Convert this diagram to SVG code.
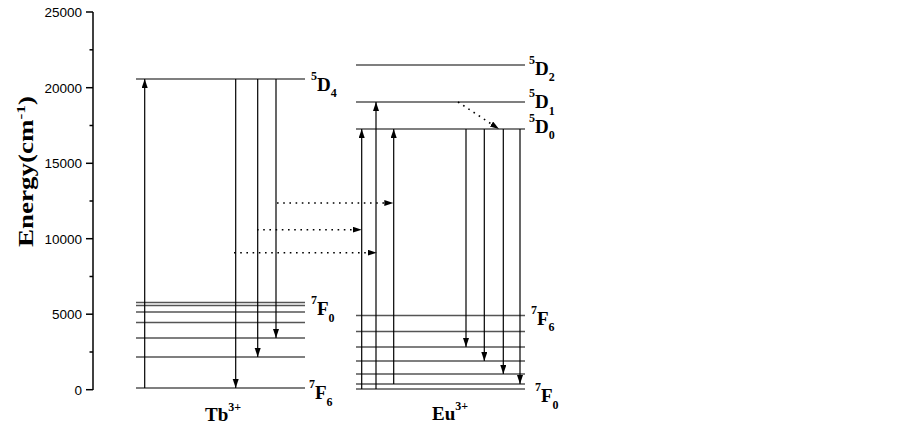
<svg xmlns="http://www.w3.org/2000/svg" width="903" height="428" viewBox="0 0 903 428">
<style>
.lvl{stroke:#555;stroke-width:1.3;fill:none}
.arr{stroke:#000;stroke-width:1.2;fill:none;marker-end:url(#ah)}
.dot{stroke:#000;stroke-width:1.6;fill:none;stroke-dasharray:1.6,4.6;marker-end:url(#ah)}
.ax{stroke:#000;stroke-width:1.5;fill:none}
.tk{font-family:"Liberation Sans",Arial,sans-serif;font-size:13.5px;text-anchor:end;fill:#000}
.lb{font-family:"Liberation Serif","Times New Roman",serif;font-weight:bold;font-size:19px;fill:#000}
.sm{font-size:12px}
</style>
<defs>
<marker id="ah" markerUnits="userSpaceOnUse" markerWidth="10" markerHeight="7" refX="9" refY="3" orient="auto">
<path d="M0,0 L9,3 L0,6 z" fill="#000"/>
</marker>
</defs>
<g id="axis">
<line class="ax" x1="93" y1="12" x2="93" y2="390"/>
<g class="ax">
<line x1="86" y1="12" x2="93" y2="12"/>
<line x1="89.5" y1="49.8" x2="93" y2="49.8"/>
<line x1="86" y1="87.7" x2="93" y2="87.7"/>
<line x1="89.5" y1="125.5" x2="93" y2="125.5"/>
<line x1="86" y1="163.3" x2="93" y2="163.3"/>
<line x1="89.5" y1="201" x2="93" y2="201"/>
<line x1="86" y1="238.7" x2="93" y2="238.7"/>
<line x1="89.5" y1="276.5" x2="93" y2="276.5"/>
<line x1="86" y1="314.2" x2="93" y2="314.2"/>
<line x1="89.5" y1="352" x2="93" y2="352"/>
<line x1="86" y1="389.7" x2="93" y2="389.7"/>
</g>
<text class="tk" x="82" y="17">25000</text>
<text class="tk" x="82" y="92.7">20000</text>
<text class="tk" x="82" y="168.3">15000</text>
<text class="tk" x="82" y="243.7">10000</text>
<text class="tk" x="82" y="319.2">5000</text>
<text class="tk" x="82" y="394.7">0</text>
<text class="lb" transform="translate(33,247) rotate(-90) scale(1.35,1)" style="font-size:20px">Energy(cm<tspan style="font-size:13px" dy="-8">-1</tspan><tspan dy="8">)</tspan></text>
</g>
<g id="tb">
<line class="lvl" x1="136" y1="79" x2="305" y2="79"/>
<line class="lvl" x1="136" y1="302.5" x2="305" y2="302.5"/>
<line class="lvl" x1="136" y1="305.5" x2="305" y2="305.5"/>
<line class="lvl" x1="136" y1="312" x2="305" y2="312"/>
<line class="lvl" x1="136" y1="322.5" x2="305" y2="322.5"/>
<line class="lvl" x1="136" y1="338" x2="305" y2="338"/>
<line class="lvl" x1="136" y1="357" x2="305" y2="357"/>
<line class="lvl" x1="136" y1="388" x2="305" y2="388"/>
<text class="lb" x="311" y="91"><tspan class="sm" dy="-11">5</tspan><tspan dy="11">D</tspan><tspan class="sm" dy="6">4</tspan></text>
<text class="lb" x="311" y="315"><tspan class="sm" dy="-11">7</tspan><tspan dy="11">F</tspan><tspan class="sm" dy="7">0</tspan></text>
<text class="lb" x="309" y="399"><tspan class="sm" dy="-11">7</tspan><tspan dy="11">F</tspan><tspan class="sm" dy="7">6</tspan></text>
<text class="lb" x="205" y="421">Tb<tspan class="sm" dy="-10">3+</tspan></text>
</g>
<g id="eu">
<line class="lvl" x1="356" y1="65" x2="525" y2="65"/>
<line class="lvl" x1="356" y1="102" x2="525" y2="102"/>
<line class="lvl" x1="356" y1="129" x2="525" y2="129"/>
<line class="lvl" x1="356" y1="315.5" x2="525" y2="315.5"/>
<line class="lvl" x1="356" y1="331.5" x2="525" y2="331.5"/>
<line class="lvl" x1="356" y1="347" x2="525" y2="347"/>
<line class="lvl" x1="356" y1="361" x2="525" y2="361"/>
<line class="lvl" x1="356" y1="374" x2="525" y2="374"/>
<line class="lvl" x1="356" y1="384" x2="525" y2="384"/>
<line class="lvl" x1="356" y1="389" x2="525" y2="389"/>
<text class="lb" x="529" y="75"><tspan class="sm" dy="-11">5</tspan><tspan dy="11">D</tspan><tspan class="sm" dy="6">2</tspan></text>
<text class="lb" x="529" y="108"><tspan class="sm" dy="-11">5</tspan><tspan dy="11">D</tspan><tspan class="sm" dy="7">1</tspan></text>
<text class="lb" x="529" y="133"><tspan class="sm" dy="-11">5</tspan><tspan dy="11">D</tspan><tspan class="sm" dy="6">0</tspan></text>
<text class="lb" x="531" y="325"><tspan class="sm" dy="-11">7</tspan><tspan dy="11">F</tspan><tspan class="sm" dy="6">6</tspan></text>
<text class="lb" x="535" y="402"><tspan class="sm" dy="-11">7</tspan><tspan dy="11">F</tspan><tspan class="sm" dy="7">0</tspan></text>
<text class="lb" x="432" y="420">Eu<tspan class="sm" dy="-10">3+</tspan></text>
</g>
<g id="connectors">
<line class="arr" x1="144.7" y1="388" x2="144.7" y2="79"/>
<line class="arr" x1="235.7" y1="79" x2="235.7" y2="388"/>
<line class="arr" x1="257.7" y1="79" x2="257.7" y2="357"/>
<line class="arr" x1="276" y1="79" x2="276" y2="338"/>
<line class="arr" x1="361.7" y1="389" x2="361.7" y2="129"/>
<line class="arr" x1="376" y1="389" x2="376" y2="102"/>
<line class="arr" x1="393.7" y1="384" x2="393.7" y2="129"/>
<line class="arr" x1="466" y1="129" x2="466" y2="347"/>
<line class="arr" x1="484.3" y1="129" x2="484.3" y2="361"/>
<line class="arr" x1="503.3" y1="129" x2="503.3" y2="374"/>
<line class="arr" x1="520" y1="129" x2="520" y2="384"/>
<line class="dot" x1="277" y1="203" x2="393.3" y2="203"/>
<line class="dot" x1="257" y1="229.7" x2="361.7" y2="229.7"/>
<line class="dot" x1="234" y1="252.7" x2="376.7" y2="252.7"/>
<line class="dot" x1="458" y1="102" x2="499" y2="129"/>
</g>
</svg>
